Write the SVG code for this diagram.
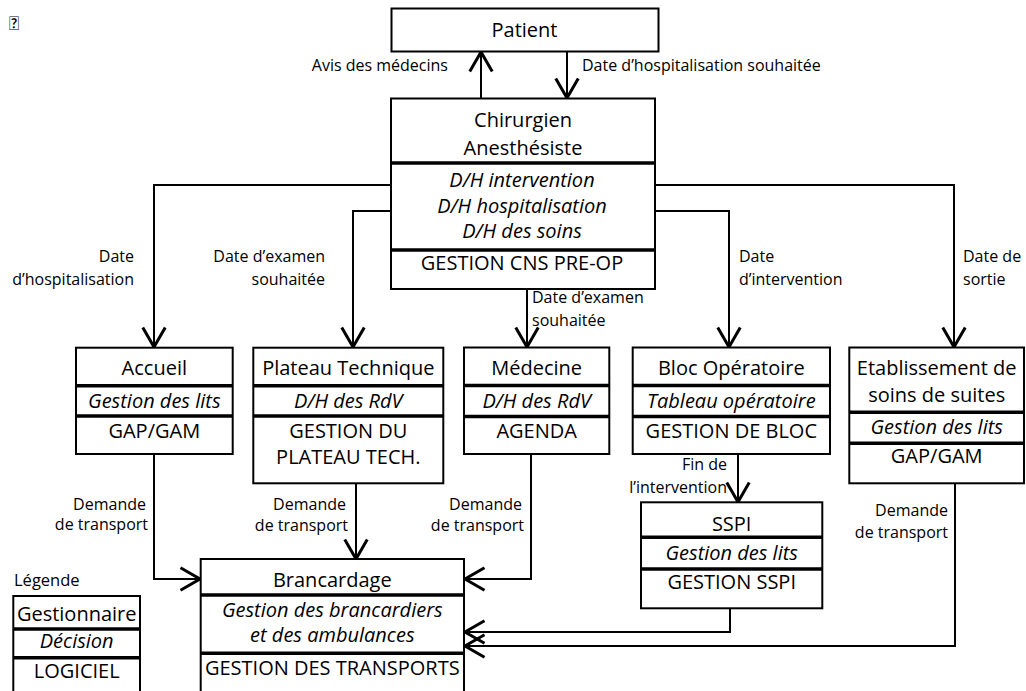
<svg xmlns="http://www.w3.org/2000/svg" width="1026" height="691" viewBox="0 0 1026 691">
<style>
text{font-family:"Open Sans","Noto Sans","Liberation Sans",sans-serif;fill:#000}
.n{font-size:20px;text-anchor:middle}
.i{font-style:italic}
.l{font-size:16px}
.e{text-anchor:end}
.box{fill:#fff;stroke:#000;stroke-width:2}
.div{stroke:#000;stroke-width:3.5}
.c{fill:none;stroke:#000;stroke-width:2}
</style>
<defs>
<marker id="arr" markerUnits="userSpaceOnUse" markerWidth="30" markerHeight="30" viewBox="-15 -10 20 20" refX="0" refY="0" orient="auto" overflow="visible">
<path d="M-13,-7.5 L0,0 L-13,7.5" fill="none" stroke="#000" stroke-width="2"/>
</marker>
</defs>
<text x="9" y="30" style="font-family:Lato,sans-serif;font-size:19px">&#xF020;</text>
<g id="connectors">
<path class="c" d="M481,98 V52" marker-end="url(#arr)"/>
<path class="c" d="M567,52 V98" marker-end="url(#arr)"/>
<path class="c" d="M391,185 H154 V347" marker-end="url(#arr)"/>
<path class="c" d="M391,211 H353 V347" marker-end="url(#arr)"/>
<path class="c" d="M527,289 V347" marker-end="url(#arr)"/>
<path class="c" d="M655,211 H729 V347" marker-end="url(#arr)"/>
<path class="c" d="M655,185 H954 V347" marker-end="url(#arr)"/>
<path class="c" d="M154,454 V579 H200" marker-end="url(#arr)"/>
<path class="c" d="M356,483 V559" marker-end="url(#arr)"/>
<path class="c" d="M531,454 V579 H465" marker-end="url(#arr)"/>
<path class="c" d="M738,454 V502" marker-end="url(#arr)"/>
<path class="c" d="M730,608 V632 H465" marker-end="url(#arr)"/>
<path class="c" d="M955,483 V646 H465" marker-end="url(#arr)"/>
<text class="l e" x="448" y="71">Avis des médecins</text>
<text class="l" x="582" y="71">Date d’hospitalisation souhaitée</text>
<text class="l e" x="134" y="262">Date</text>
<text class="l e" x="134" y="285">d’hospitalisation</text>
<text class="l e" x="325" y="262">Date d’examen</text>
<text class="l e" x="325" y="285">souhaitée</text>
<text class="l" x="532" y="303">Date d’examen</text>
<text class="l" x="532" y="326">souhaitée</text>
<text class="l" x="739" y="262">Date</text>
<text class="l" x="739" y="285">d’intervention</text>
<text class="l" x="963" y="262">Date de</text>
<text class="l" x="963" y="285">sortie</text>
<text class="l e" x="146" y="510">Demande</text>
<text class="l e" x="148" y="530">de transport</text>
<text class="l e" x="346" y="510">Demande</text>
<text class="l e" x="348" y="531">de transport</text>
<text class="l e" x="522" y="510">Demande</text>
<text class="l e" x="524" y="531">de transport</text>
<text class="l e" x="948" y="516">Demande</text>
<text class="l e" x="948" y="538">de transport</text>
<text class="l e" x="727" y="470">Fin de</text>
<text class="l e" x="727" y="493">l’intervention</text>
</g>
<g id="patient">
<rect class="box" x="391.5" y="8.5" width="267" height="43"/>
<text class="n" x="524.5" y="37">Patient</text>
</g>
<g id="chirurgien">
<rect class="box" x="391" y="98.5" width="264" height="190.5"/>
<line class="div" x1="391" y1="163" x2="655" y2="163"/>
<line class="div" x1="391" y1="250" x2="655" y2="250"/>
<text class="n" x="523" y="127">Chirurgien</text>
<text class="n" x="523" y="155">Anesthésiste</text>
<text class="n i" x="522" y="187">D/H intervention</text>
<text class="n i" x="522" y="213">D/H hospitalisation</text>
<text class="n i" x="522" y="238">D/H des soins</text>
<text class="n" x="522" y="270">GESTION CNS PRE-OP</text>
</g>
<g id="accueil">
<rect class="box" x="76" y="347.7" width="156.7" height="106.3"/>
<line class="div" x1="76" y1="385.7" x2="232.7" y2="385.7"/>
<line class="div" x1="76" y1="416" x2="232.7" y2="416"/>
<text class="n" x="154.3" y="375">Accueil</text>
<text class="n i" x="154.3" y="407.5">Gestion des lits</text>
<text class="n" x="154.3" y="438">GAP/GAM</text>
</g>
<g id="plateau">
<rect class="box" x="253.3" y="347.7" width="190" height="135.6"/>
<line class="div" x1="253.3" y1="385.7" x2="443.3" y2="385.7"/>
<line class="div" x1="253.3" y1="416" x2="443.3" y2="416"/>
<text class="n" x="348.3" y="375">Plateau Technique</text>
<text class="n i" x="348.3" y="407.5">D/H des RdV</text>
<text class="n" x="348.3" y="438">GESTION DU</text>
<text class="n" x="348.3" y="464">PLATEAU TECH.</text>
</g>
<g id="medecine">
<rect class="box" x="464" y="347.5" width="145.3" height="106.5"/>
<line class="div" x1="464" y1="385.5" x2="609.3" y2="385.5"/>
<line class="div" x1="464" y1="416.5" x2="609.3" y2="416.5"/>
<text class="n" x="536.7" y="375">Médecine</text>
<text class="n i" x="536.7" y="407.5">D/H des RdV</text>
<text class="n" x="536.7" y="438">AGENDA</text>
</g>
<g id="bloc">
<rect class="box" x="632.7" y="347.5" width="197.3" height="106.5"/>
<line class="div" x1="632.7" y1="385.5" x2="830" y2="385.5"/>
<line class="div" x1="632.7" y1="416.5" x2="830" y2="416.5"/>
<text class="n" x="731.3" y="375">Bloc Opératoire</text>
<text class="n i" x="731.3" y="407.5">Tableau opératoire</text>
<text class="n" x="731.3" y="438">GESTION DE BLOC</text>
</g>
<g id="etablissement">
<rect class="box" x="849.3" y="347.5" width="174.7" height="135.8"/>
<line class="div" x1="849.3" y1="412.3" x2="1024" y2="412.3"/>
<line class="div" x1="849.3" y1="443.3" x2="1024" y2="443.3"/>
<text class="n" x="936.7" y="375">Etablissement de</text>
<text class="n" x="936.7" y="402">soins de suites</text>
<text class="n i" x="936.7" y="434">Gestion des lits</text>
<text class="n" x="936.7" y="463">GAP/GAM</text>
</g>
<g id="sspi">
<rect class="box" x="641" y="502.3" width="181.3" height="106"/>
<line class="div" x1="641" y1="537.3" x2="822.3" y2="537.3"/>
<line class="div" x1="641" y1="569" x2="822.3" y2="569"/>
<text class="n" x="731.7" y="530.7">SSPI</text>
<text class="n i" x="731.7" y="559.5">Gestion des lits</text>
<text class="n" x="731.7" y="588.5">GESTION SSPI</text>
</g>
<g id="brancardage">
<rect class="box" x="200.7" y="559" width="263.3" height="150"/>
<line class="div" x1="200.7" y1="595" x2="464" y2="595"/>
<line class="div" x1="200.7" y1="653.3" x2="464" y2="653.3"/>
<text class="n" x="332.3" y="587.3">Brancardage</text>
<text class="n i" x="332.3" y="617">Gestion des brancardiers</text>
<text class="n i" x="332.3" y="642">et des ambulances</text>
<text class="n" x="332.3" y="675">GESTION DES TRANSPORTS</text>
</g>
<g id="legende">
<text x="14" y="586" style="font-size:16.5px">Légende</text>
<rect class="box" x="13.3" y="596" width="126.7" height="110"/>
<line class="div" x1="13.3" y1="629" x2="140" y2="629"/>
<line class="div" x1="13.3" y1="657.7" x2="140" y2="657.7"/>
<text class="n" x="76.7" y="621">Gestionnaire</text>
<text class="n i" x="76.7" y="648.3">Décision</text>
<text class="n" x="76.7" y="678">LOGICIEL</text>
</g>
</svg>
